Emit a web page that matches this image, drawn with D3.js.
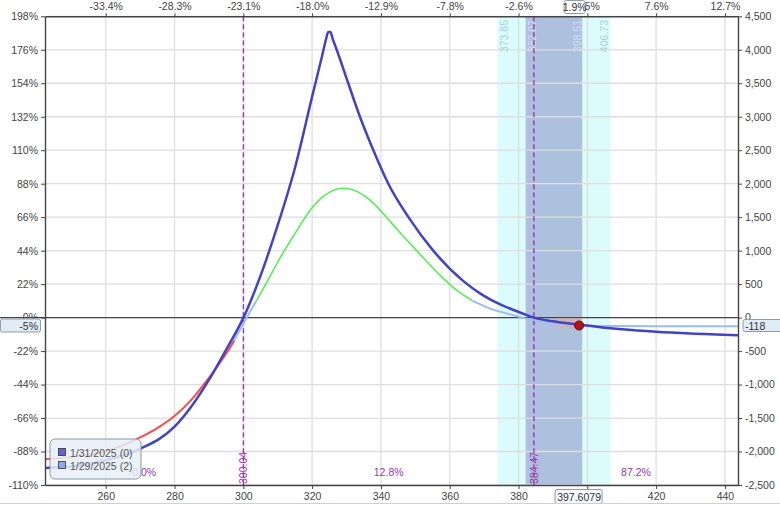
<!DOCTYPE html>
<html>
<head>
<meta charset="utf-8">
<script src="https://cdn.jsdelivr.net/npm/d3@7"></script>
<style>
    body { margin: 0; background: #fff; }
    svg { display: block; font-family: "Liberation Sans", Arial, sans-serif; }
</style>
</head>
<body>
<div id="chart"></div>
<script>
//-------------------------- data --------------------------
var priceTicks = [260, 280, 300, 320, 340, 360, 380, 400, 420, 440];
var pctChangeLabels = ["-33.4%", "-28.3%", "-23.1%", "-18.0%", "-12.9%", "-7.8%", "-2.6%", "2.5%", "7.6%", "12.7%"];
var plTicks = [-2500, -2000, -1500, -1000, -500, 0, 500, 1000, 1500, 2000, 2500, 3000, 3500, 4000, 4500];
var plLabels = ["-2,500", "-2,000", "-1,500", "-1,000", "-500", "0", "500", "1,000", "1,500", "2,000", "2,500", "3,000", "3,500", "4,000", "4,500"];
var pctLabels = ["-110%", "-88%", "-66%", "-44%", "-22%", "0%", "22%", "44%", "66%", "88%", "110%", "132%", "154%", "176%", "198%"];

// 1/31/2025 (0) - expiration curve
var expiryPrice = [242.35, 250, 260, 270, 280, 285, 290, 295, 300.04, 305, 310, 315, 320, 323, 324, 324.7, 325.3, 326, 327.15, 330.5, 333.9, 337.8, 342.15, 348, 355.2, 363.9, 368.8, 372, 375, 378, 381, 384.47, 390, 397.6, 405, 410, 420, 430, 443.8];
var expiryPL = [-2245, -2225, -2130, -1960, -1630, -1320, -930, -480, 0, 625, 1380, 2234, 3300, 3930, 4150, 4265, 4265, 4160, 4000, 3500, 3000, 2500, 2000, 1500, 1000, 548, 362, 266, 191, 125, 65, 0, -55, -105, -150, -175, -212, -238, -262];

// 1/29/2025 (2) - today curve
var nowPrice = [242.35, 250, 260, 270, 275, 280, 285, 290, 295, 297.4, 300, 302, 303.8, 306, 310, 315, 320, 322.3, 325, 329, 333, 336.5, 340.2, 345, 350.4, 358.1, 362, 366.6, 372, 378.2, 381, 386, 392, 397.6, 405, 420, 443.8];
var nowPL = [-2116, -2080, -2000, -1790, -1650, -1470, -1220, -900, -540, -340, -90, 90, 250, 450, 830, 1255, 1640, 1770, 1870, 1931, 1885, 1770, 1582, 1300, 1000, 587, 410, 254, 130, 40, 0, -45, -90, -118, -125, -128, -130];
var nowBreaks = [242.35, 297.4, 303.8, 366.6, 443.8];

var breakevens = [300.04, 384.47];
var probLabels = ["0.0%", "12.8%", "87.2%"];
var outerBand = [373.85, 406.73];
var innerBand = [382.07, 398.51];
var currentPrice = 397.6079;
var currentPL = -118;
var currentPct = "-5%";
var currentChange = "1.9%";
var dayRange = [391, 398.51];
var dayPL = [-10, -160];
var legendNames = ["1/31/2025 (0)", "1/29/2025 (2)"];

//-------------------------- layout --------------------------
var W = 780, H = 505;
var plotLeft = 45, plotRight = 738, plotTop = 16.3, plotBottom = 485;
var fontSize = "10.5px";
var purple = "#9c35b0";

var svg = d3.select("#chart")
    .append("svg")
    .attr("width", W)
    .attr("height", H);

var x = d3.scaleLinear().domain([242.35, 443.8]).range([plotLeft, plotRight]);
var y = d3.scaleLinear().domain([-2500, 4500]).range([plotBottom, plotTop]);

// bands
svg.append("rect")
    .attr("x", x(outerBand[0])).attr("y", plotTop)
    .attr("width", x(outerBand[1]) - x(outerBand[0])).attr("height", plotBottom - plotTop)
    .attr("fill", "#dcfcfc");
svg.append("rect")
    .attr("x", x(innerBand[0])).attr("y", plotTop)
    .attr("width", x(innerBand[1]) - x(innerBand[0])).attr("height", plotBottom - plotTop)
    .attr("fill", "#adc0de");

// grid
svg.append("g").selectAll("line")
    .data(priceTicks)
    .join("line")
    .attr("x1", d => x(d)).attr("x2", d => x(d))
    .attr("y1", plotTop).attr("y2", plotBottom)
    .attr("stroke", "#dedede").attr("stroke-width", 1.3);
svg.append("g").selectAll("line")
    .data(plTicks)
    .join("line")
    .attr("x1", plotLeft).attr("x2", plotRight)
    .attr("y1", d => y(d)).attr("y2", d => y(d))
    .attr("stroke", "#dedede").attr("stroke-width", 1.3);

// band labels
var bandLabels = [
    { v: outerBand[0], dx: 6.5, c: "#a9cfdc" },
    { v: innerBand[0], dx: 6, c: "#d4def0" },
    { v: innerBand[1], dx: -5.5, c: "#d4def0" },
    { v: outerBand[1], dx: -6, c: "#a9cfdc" }
];
svg.append("g").selectAll("text")
    .data(bandLabels)
    .join("text")
    .attr("transform", d => "translate(" + (x(d.v) + d.dx) + ",20) rotate(-90)")
    .attr("text-anchor", "end")
    .attr("dominant-baseline", "central")
    .style("font-size", fontSize)
    .attr("fill", d => d.c)
    .text(d => d.v.toFixed(2));

// zero line
svg.append("line")
    .attr("x1", 0).attr("x2", plotRight)
    .attr("y1", y(0)).attr("y2", y(0))
    .attr("stroke", "#444").attr("stroke-width", 1.4);

// pink range around current price
svg.append("rect")
    .attr("x", x(dayRange[0])).attr("y", y(dayPL[0]))
    .attr("width", x(dayRange[1]) - x(dayRange[0]))
    .attr("height", y(dayPL[1]) - y(dayPL[0]))
    .attr("fill", "#f0a890").attr("opacity", 0.6);

// breakeven lines
svg.append("g").selectAll("line")
    .data(breakevens)
    .join("line")
    .attr("x1", d => x(d)).attr("x2", d => x(d))
    .attr("y1", plotTop).attr("y2", plotBottom)
    .attr("stroke", purple).attr("stroke-width", 1.4)
    .attr("stroke-dasharray", "5,3");
svg.append("g").selectAll("text")
    .data(breakevens)
    .join("text")
    .attr("transform", d => "translate(" + x(d) + ",484) rotate(-90)")
    .attr("dominant-baseline", "central")
    .style("font-size", fontSize)
    .attr("fill", purple)
    .text(d => d.toFixed(2));

// probability labels
var regionEdges = [x.domain()[0]].concat(breakevens, [x.domain()[1]]);
svg.append("g").selectAll("text")
    .data(probLabels)
    .join("text")
    .attr("x", (d, i) => (x(regionEdges[i]) + x(regionEdges[i + 1])) / 2)
    .attr("y", 476)
    .attr("text-anchor", "middle")
    .style("font-size", fontSize)
    .attr("fill", purple)
    .text(d => d);

// curves
var line = d3.line().x(d => x(d[0])).y(d => y(d[1])).curve(d3.curveMonotoneX);
var nowPts = nowPrice.map((p, i) => [p, nowPL[i]]);
var segColors = ["#ff4a4a", "#9dbcf0", "#55ee55", "#9dbcf0"];
for (var s = 0; s < nowBreaks.length - 1; s++) {
    var seg = nowPts.filter(d => d[0] >= nowBreaks[s] && d[0] <= nowBreaks[s + 1]);
    svg.append("path")
        .datum(seg)
        .attr("d", line)
        .attr("fill", "none")
        .attr("stroke", segColors[s])
        .attr("stroke-width", s == 2 ? 1.6 : 2);
}
svg.append("path")
    .datum(expiryPrice.map((p, i) => [p, expiryPL[i]]))
    .attr("d", line)
    .attr("fill", "none")
    .attr("stroke", "#4242c6")
    .attr("stroke-width", 2.5);

// current point
svg.append("circle")
    .attr("cx", x(currentPrice)).attr("cy", y(currentPL))
    .attr("r", 4.5)
    .attr("fill", "#b41414").attr("stroke", "#6a0a0a").attr("stroke-width", 1);

// axes
function styleAxis(g) {
    g.select(".domain").attr("stroke", "#444").attr("stroke-width", 1.4);
    g.selectAll(".tick line").attr("stroke", "#444");
    g.selectAll("text").style("font-size", fontSize).attr("fill", "#444")
        .style("font-family", "'Liberation Sans', Arial, sans-serif");
}
svg.append("g")
    .attr("transform", "translate(0," + plotBottom + ")")
    .call(d3.axisBottom(x).tickValues(priceTicks).tickSize(4).tickSizeOuter(0).tickPadding(4).tickFormat(d3.format("d")))
    .call(styleAxis);
svg.append("g")
    .attr("transform", "translate(0," + plotTop + ")")
    .call(d3.axisTop(x).tickValues(priceTicks).tickSize(3).tickSizeOuter(0).tickFormat((d, i) => pctChangeLabels[i]))
    .call(styleAxis);
svg.append("g")
    .attr("transform", "translate(" + plotLeft + ",0)")
    .call(d3.axisLeft(y).tickValues(plTicks).tickSize(4).tickSizeOuter(0).tickFormat((d, i) => pctLabels[i]))
    .call(styleAxis);
svg.append("g")
    .attr("transform", "translate(" + plotRight + ",0)")
    .call(d3.axisRight(y).tickValues(plTicks).tickSize(4).tickSizeOuter(0).tickFormat((d, i) => plLabels[i]))
    .call(styleAxis);

// value boxes
var cy = y(currentPL);
function valueBox(bx, by, bw, bh, label, anchor, tx, fill) {
    svg.append("rect")
        .attr("x", bx).attr("y", by).attr("width", bw).attr("height", bh)
        .attr("rx", 2)
        .attr("fill", fill).attr("stroke", "#8d9cb0");
    svg.append("text")
        .attr("x", tx).attr("y", by + bh / 2)
        .attr("dominant-baseline", "central")
        .attr("text-anchor", anchor)
        .style("font-size", fontSize)
        .attr("fill", "#333")
        .text(label);
}
valueBox(0.5, cy - 6.5, 40, 13, currentPct, "end", 38, "#e2ecf7");
valueBox(743, cy - 6, 40, 12, String(currentPL), "start", 745, "#e2ecf7");
valueBox(x(currentPrice) - 24, 489.5, 47, 14, String(currentPrice), "middle", x(currentPrice), "#f6f9fc");
valueBox(x(currentPrice) - 15, 0.5, 21, 13, currentChange, "middle", x(currentPrice) - 4.5, "#ffffff");

// legend
var lg = svg.append("g").attr("transform", "translate(50,439)");
lg.append("rect")
    .attr("width", 91).attr("height", 40).attr("rx", 5)
    .attr("fill", "#e6eef7").attr("fill-opacity", 0.85)
    .attr("stroke", "#8898aa");
var legendColors = ["#6464c8", "#8caaea"];
lg.selectAll(".key")
    .data(legendNames)
    .join("rect")
    .attr("class", "key")
    .attr("x", 8.5).attr("y", (d, i) => 9.5 + i * 13)
    .attr("width", 7).attr("height", 7)
    .attr("fill", (d, i) => legendColors[i])
    .attr("stroke", "#333").attr("stroke-width", 0.8);
lg.selectAll(".name")
    .data(legendNames)
    .join("text")
    .attr("class", "name")
    .attr("x", 20).attr("y", (d, i) => 17.5 + i * 13)
    .style("font-size", "10.5px")
    .attr("fill", "#555")
    .text(d => d);

// window edge
svg.append("line")
    .attr("x1", 0).attr("x2", W)
    .attr("y1", 503.5).attr("y2", 503.5)
    .attr("stroke", "#d0d0d0");
</script>
</body>
</html>
